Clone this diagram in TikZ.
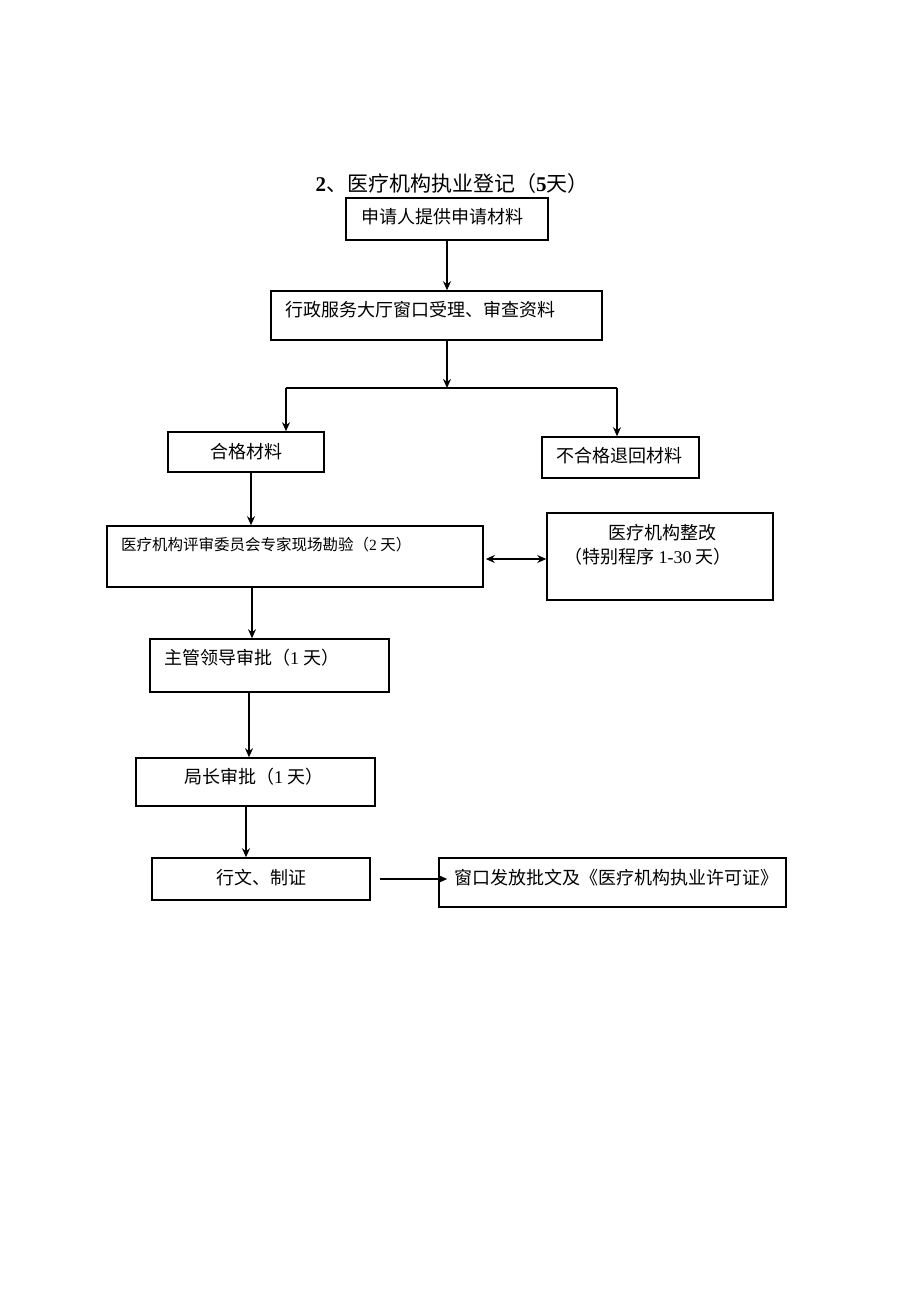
\documentclass[tikz,border=0pt]{standalone}
\usepackage{fontspec}
\setmainfont{Liberation Serif}
\newfontfamily\cjk{Noto Sans CJK SC}
\newfontfamily\latf{Liberation Serif}
\newcommand\lt[1]{{\latf #1}}
\usetikzlibrary{arrows.meta}
\begin{document}
\begin{tikzpicture}[x=1pt,y=-1pt,
  box/.style={draw=black,line width=1.6pt,rectangle,inner sep=0pt},
  txt/.style={inner sep=0pt,font=\cjk\fontsize{18}{22}\selectfont},
  arr/.style={draw=black,line width=1.5pt,-{Stealth[length=9pt,width=8pt]}},
  darr/.style={draw=black,line width=1.5pt,{Stealth[length=9pt,width=8pt]}-{Stealth[length=9pt,width=8pt]}},
  ln/.style={draw=black,line width=1.5pt}]
\useasboundingbox (0,0) rectangle (920,1301);
\fill[white] (0,0) rectangle (920,1301);
% title
\node[txt,font=\cjk\fontsize{21}{25}\selectfont] (title) at (452,184) {\textbf{\lt{2}}、医疗机构执业登记（\textbf{\lt{5}}天）};
% boxes
\node[box,minimum width=202,minimum height=42] (b1) at (447,219) {};
\node[box,minimum width=331,minimum height=49] (b2) at (436.5,315.5) {};
\node[box,minimum width=156,minimum height=40] (b3) at (246,452) {};
\node[box,minimum width=157,minimum height=41] (b4) at (620.5,457.5) {};
\node[box,minimum width=376,minimum height=61] (b5) at (295,556.5) {};
\node[box,minimum width=226,minimum height=87] (b6) at (660,556.5) {};
\node[box,minimum width=239,minimum height=53] (b7) at (269.5,665.5) {};
\node[box,minimum width=239,minimum height=48] (b8) at (255.5,782) {};
\node[box,minimum width=218,minimum height=42] (b9) at (261,879) {};
\node[box,minimum width=347,minimum height=49] (b10) at (612.5,882.5) {};
% texts
\node[txt,anchor=west] (t1) at (361,217) {申请人提供申请材料};
\node[txt,anchor=west] (t2) at (285,310) {行政服务大厅窗口受理、审查资料};
\node[txt] (t3) at (246,452) {合格材料};
\node[txt] (t4) at (619,456) {不合格退回材料};
\node[txt,anchor=west,font=\cjk\fontsize{15.5}{19}\selectfont] (t5) at (121,545) {医疗机构评审委员会专家现场勘验（\lt{2} 天）};
\node[txt] (t6a) at (662,533) {医疗机构整改};
\node[txt] (t6b) at (648,557) {（特别程序 \lt{1-30} 天）};
\node[txt,anchor=west] (t7) at (164,658) {主管领导审批（\lt{1} 天）};
\node[txt,anchor=west] (t8) at (184,777) {局长审批（\lt{1} 天）};
\node[txt] (t9) at (261,878) {行文、制证};
\node[txt,anchor=west] (t10) at (454,878) {窗口发放批文及《医疗机构执业许可证》};
% connectors
\draw[arr] (b1.south) -- (b1.south |- b2.north);
\coordinate (sp) at (447,388);
\coordinate (spL) at (286,388);
\coordinate (spR) at (617,388);
\draw[arr] (b2.south -| sp) -- (sp);
\draw[ln] (spL) -- (spR);
\draw[arr] (spL) -- (spL |- b3.north);
\draw[arr] (spR) -- (spR |- b4.north);
\draw[arr] ([xshift=5pt]b3.south) -- ([xshift=5pt]b3.south |- b5.north);
\draw[darr] ([xshift=2pt,yshift=-2.5pt]b5.east) -- ([yshift=-2.5pt]b6.west);
\draw[arr] ([xshift=-43pt]b5.south) -- ([xshift=-43pt]b5.south |- b7.north);
\draw[arr] ([xshift=-20.5pt]b7.south) -- ([xshift=-20.5pt]b7.south |- b8.north);
\draw[arr] ([xshift=-9.5pt]b8.south) -- ([xshift=-9.5pt]b8.south |- b9.north);
\draw[arr] ([xshift=9pt]b9.east) -- ([xshift=9pt]b9.east -| b10.west);
\end{tikzpicture}
\end{document}
